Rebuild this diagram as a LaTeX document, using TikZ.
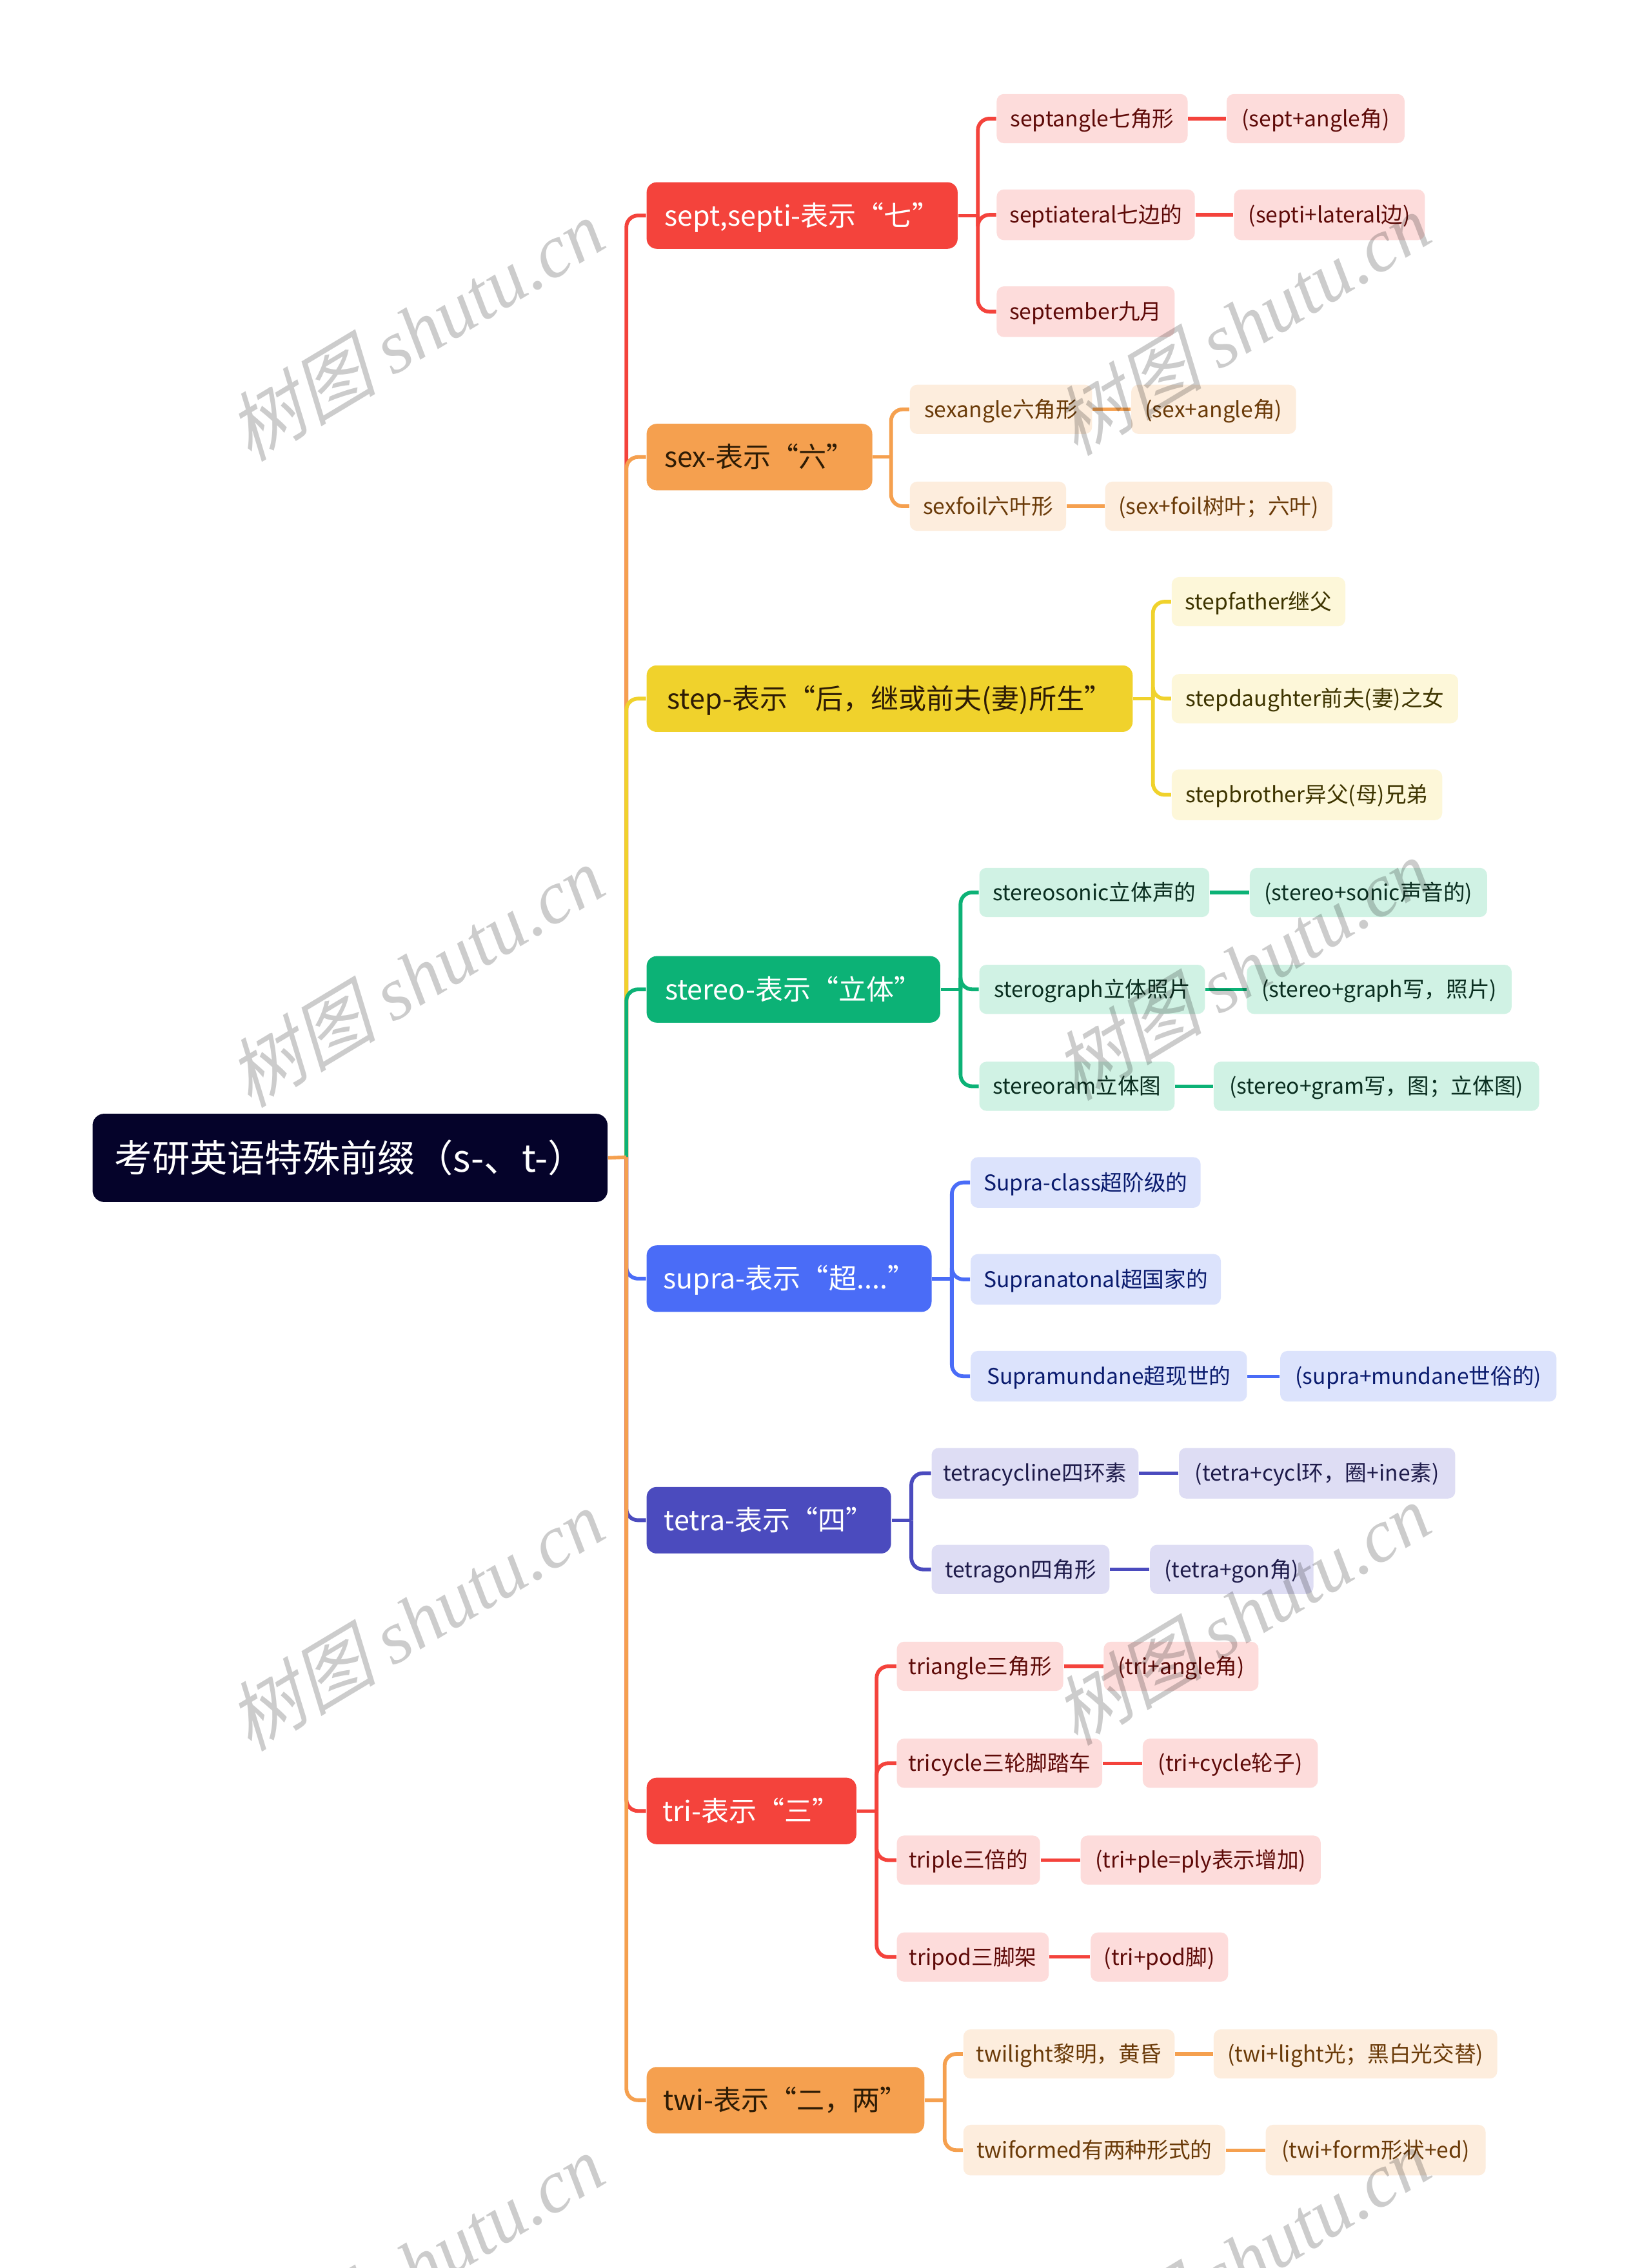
\documentclass[tikz,border=0pt]{standalone}
\usepackage{fontspec}
\setmainfont{Noto Sans CJK SC}
\newfontfamily\wmlatin{Liberation Serif}
\newfontfamily\wmcjk[FakeSlant=0.25]{Noto Sans CJK SC}
\definecolor{cRoot}{HTML}{05032A}
\definecolor{cRed}{HTML}{F4433C}
\definecolor{cOrange}{HTML}{F5A04F}
\definecolor{cYellow}{HTML}{F0D22C}
\definecolor{cGreen}{HTML}{0CB276}
\definecolor{cBlue}{HTML}{4A6CF7}
\definecolor{cIndigo}{HTML}{4B4BBE}
\definecolor{fPink}{HTML}{FDDCDB}
\definecolor{tPink}{HTML}{5E0A08}
\definecolor{fPeach}{HTML}{FDEDDD}
\definecolor{tPeach}{HTML}{6A3A08}
\definecolor{fYel}{HTML}{FDF7D9}
\definecolor{tYel}{HTML}{3D3400}
\definecolor{fMint}{HTML}{D0F2E4}
\definecolor{tMint}{HTML}{0A2E20}
\definecolor{fBlue}{HTML}{DCE3FC}
\definecolor{tBlue}{HTML}{0A1B6E}
\definecolor{fLav}{HTML}{DEDDF4}
\definecolor{tLav}{HTML}{1E1B4A}
\definecolor{tDark}{HTML}{2E1C05}
\newcommand\bx[7]{\node[#1, minimum width={(#5-#3)*0.5pt}, minimum height={(#6-#4)*0.5pt}] (#2) at ({(#3+#5)/2},{(#4+#6)/2}) {#7};}
\begin{document}
\begin{tikzpicture}[x=0.5pt,y=-0.5pt,
  base/.style={rounded corners=2.5pt, inner xsep=2pt, inner ysep=0pt, anchor=center, align=center},
  rootbox/.style={base, rounded corners=4pt, fill=cRoot, text=white, font=\fontsize{13pt}{15pt}\selectfont, text height=11.44pt, text depth=1.82pt},
  brbox/.style 2 args={base, rounded corners=3.5pt, fill=#1, text=#2, font=\fontsize{9.6pt}{11pt}\selectfont, text height=8.45pt, text depth=1.35pt},
  chbox/.style 2 args={base, fill=#1, text=#2, font=\fontsize{7.5pt}{9pt}\selectfont, text height=6.6pt, text depth=1.05pt},
  cpink/.style={chbox={fPink}{tPink}},
  cpeach/.style={chbox={fPeach}{tPeach}},
  cyel/.style={chbox={fYel}{tYel}},
  cmint/.style={chbox={fMint}{tMint}},
  cblue/.style={chbox={fBlue}{tBlue}},
  clav/.style={chbox={fLav}{tLav}},
  conn/.style={line width=1.3pt, rounded corners=4pt},
  link/.style={line width=1.2pt},
  wm/.style={text=black, text opacity=0.2, font=\fontsize{26pt}{30pt}\selectfont, rotate=31, inner sep=0pt}
]
\fill[white] (0,0) rectangle (1141,1568);
\useasboundingbox (0,0) rectangle (1141,1568);

% root and branches
\bx{rootbox}{r}{64}{770}{420}{831}{考研英语特殊前缀（s-、t-）}
\bx{brbox={cRed}{white}}{b1}{447}{126}{662}{172}{sept,septi-表示“七”}
\bx{brbox={cOrange}{tDark}}{b2}{447}{293}{603}{339}{sex-表示“六”}
\bx{brbox={cYellow}{tDark}}{b3}{447}{460}{783}{506}{step-表示“后，继或前夫(妻)所生”}
\bx{brbox={cGreen}{white}}{b4}{447}{661}{650}{707}{stereo-表示“立体”}
\bx{brbox={cBlue}{white}}{b5}{447}{861}{644}{907}{supra-表示“超....”}
\bx{brbox={cIndigo}{white}}{b6}{447}{1028}{616}{1074}{tetra-表示“四”}
\bx{brbox={cRed}{white}}{b7}{447}{1229}{592}{1275}{tri-表示“三”}
\bx{brbox={cOrange}{tDark}}{b8}{447}{1429}{639}{1475}{twi-表示“二，两”}

% sept
\bx{cpink}{c11}{689}{65}{821}{99}{septangle七角形}
\bx{cpink}{g11}{848}{65}{971}{99}{(sept+angle角)}
\bx{cpink}{c12}{689}{131}{826}{166}{septiateral七边的}
\bx{cpink}{g12}{853}{131}{985}{166}{(septi+lateral边)}
\bx{cpink}{c13}{689}{198}{812}{233}{september九月}
% sex
\bx{cpeach}{c21}{629}{266}{755}{300}{sexangle六角形}
\bx{cpeach}{g21}{782}{266}{896}{300}{(sex+angle角)}
\bx{cpeach}{c22}{629}{333}{737}{367}{sexfoil六叶形}
\bx{cpeach}{g22}{764}{333}{921}{367}{(sex+foil树叶；六叶)}
% step
\bx{cyel}{c31}{810}{399}{930}{433}{stepfather继父}
\bx{cyel}{c32}{810}{466}{1008}{500}{stepdaughter前夫(妻)之女}
\bx{cyel}{c33}{810}{532}{997}{567}{stepbrother异父(母)兄弟}
% stereo
\bx{cmint}{c41}{677}{600}{836}{634}{stereosonic立体声的}
\bx{cmint}{g41}{864}{600}{1028}{634}{(stereo+sonic声音的)}
\bx{cmint}{c42}{677}{667}{833}{701}{sterograph立体照片}
\bx{cmint}{g42}{862}{667}{1045}{701}{(stereo+graph写，照片)}
\bx{cmint}{c43}{677}{734}{812}{768}{stereoram立体图}
\bx{cmint}{g43}{839}{734}{1064}{768}{(stereo+gram写，图；立体图)}
% supra
\bx{cblue}{c51}{671}{800}{830}{835}{Supra-class超阶级的}
\bx{cblue}{c52}{671}{867}{844}{902}{Supranatonal超国家的}
\bx{cblue}{c53}{671}{934}{862}{969}{Supramundane超现世的}
\bx{cblue}{g53}{885}{934}{1076}{969}{(supra+mundane世俗的)}
% tetra
\bx{clav}{c61}{644}{1001}{787}{1036}{tetracycline四环素}
\bx{clav}{g61}{815}{1001}{1006}{1036}{(tetra+cycl环，圈+ine素)}
\bx{clav}{c62}{644}{1068}{767}{1102}{tetragon四角形}
\bx{clav}{g62}{795}{1068}{908}{1102}{(tetra+gon角)}
% tri
\bx{cpink}{c71}{620}{1135}{735}{1169}{triangle三角形}
\bx{cpink}{g71}{763}{1135}{870}{1169}{(tri+angle角)}
\bx{cpink}{c72}{620}{1202}{762}{1236}{tricycle三轮脚踏车}
\bx{cpink}{g72}{790}{1202}{911}{1236}{(tri+cycle轮子)}
\bx{cpink}{c73}{620}{1269}{719}{1303}{triple三倍的}
\bx{cpink}{g73}{747}{1269}{913}{1303}{(tri+ple=ply表示增加)}
\bx{cpink}{c74}{620}{1336}{725}{1370}{tripod三脚架}
\bx{cpink}{g74}{754}{1336}{849}{1370}{(tri+pod脚)}
% twi
\bx{cpeach}{c81}{666}{1403}{812}{1437}{twilight黎明，黄昏}
\bx{cpeach}{g81}{839}{1403}{1035}{1437}{(twi+light光；黑白光交替)}
\bx{cpeach}{c82}{666}{1469}{847}{1504}{twiformed有两种形式的}
\bx{cpeach}{g82}{875}{1469}{1027}{1504}{(twi+form形状+ed)}

% trunk
\coordinate (t0) at (433,800);
\draw[conn,cRed] (t0) |- (b1.west);
\draw[conn,cOrange] (t0) |- (b2.west);
\draw[conn,cYellow] (t0) |- (b3.west);
\draw[conn,cGreen] (t0) |- (b4.west);
\draw[conn,cBlue] (t0) |- (b5.west);
\draw[conn,cIndigo] (t0) |- (b6.west);
\draw[conn,cRed] (t0) |- (b7.west);
\draw[conn,cOrange] (t0) |- (b8.west);
\draw[link,cOrange] (r.east) -- (t0);

% branch to children
\coordinate (v1) at (676,149);
\draw[link,cRed] (b1.east) -- (v1);
\foreach \c in {c11,c12,c13} \draw[conn,cRed] (v1) |- (\c.west);
\coordinate (v2) at (616,316);
\draw[link,cOrange] (b2.east) -- (v2);
\foreach \c in {c21,c22} \draw[conn,cOrange] (v2) |- (\c.west);
\coordinate (v3) at (797,483);
\draw[link,cYellow] (b3.east) -- (v3);
\foreach \c in {c31,c32,c33} \draw[conn,cYellow] (v3) |- (\c.west);
\coordinate (v4) at (664,684);
\draw[link,cGreen] (b4.east) -- (v4);
\foreach \c in {c41,c42,c43} \draw[conn,cGreen] (v4) |- (\c.west);
\coordinate (v5) at (658,884);
\draw[link,cBlue] (b5.east) -- (v5);
\foreach \c in {c51,c52,c53} \draw[conn,cBlue] (v5) |- (\c.west);
\coordinate (v6) at (630,1051);
\draw[link,cIndigo] (b6.east) -- (v6);
\foreach \c in {c61,c62} \draw[conn,cIndigo] (v6) |- (\c.west);
\coordinate (v7) at (606,1252);
\draw[link,cRed] (b7.east) -- (v7);
\foreach \c in {c71,c72,c73,c74} \draw[conn,cRed] (v7) |- (\c.west);
\coordinate (v8) at (653,1452);
\draw[link,cOrange] (b8.east) -- (v8);
\foreach \c in {c81,c82} \draw[conn,cOrange] (v8) |- (\c.west);

% child to grandchild
\draw[link,cRed] (c11.east) -- (g11.west);
\draw[link,cRed] (c12.east) -- (g12.west);
\draw[link,cOrange] (c21.east) -- (g21.west);
\draw[link,cOrange] (c22.east) -- (g22.west);
\draw[link,cGreen] (c41.east) -- (g41.west);
\draw[link,cGreen] (c42.east) -- (g42.west);
\draw[link,cGreen] (c43.east) -- (g43.west);
\draw[link,cBlue] (c53.east) -- (g53.west);
\draw[link,cIndigo] (c61.east) -- (g61.west);
\draw[link,cIndigo] (c62.east) -- (g62.west);
\draw[link,cRed] (c71.east) -- (g71.west);
\draw[link,cRed] (c72.east) -- (g72.west);
\draw[link,cRed] (c73.east) -- (g73.west);
\draw[link,cRed] (c74.east) -- (g74.west);
\draw[link,cOrange] (c81.east) -- (g81.west);
\draw[link,cOrange] (c82.east) -- (g82.west);

% watermarks
\foreach \n/\x/\y in {w1/287/228, w2/287/675, w3/287/1120, w4/287/1566, w5/858/224, w6/858/670, w7/858/1116, w8/858/1562}
  \node[wm] (\n) at (\x,\y) {{\wmcjk 树图} {\wmlatin\itshape shutu.cn}};
\end{tikzpicture}
\end{document}
